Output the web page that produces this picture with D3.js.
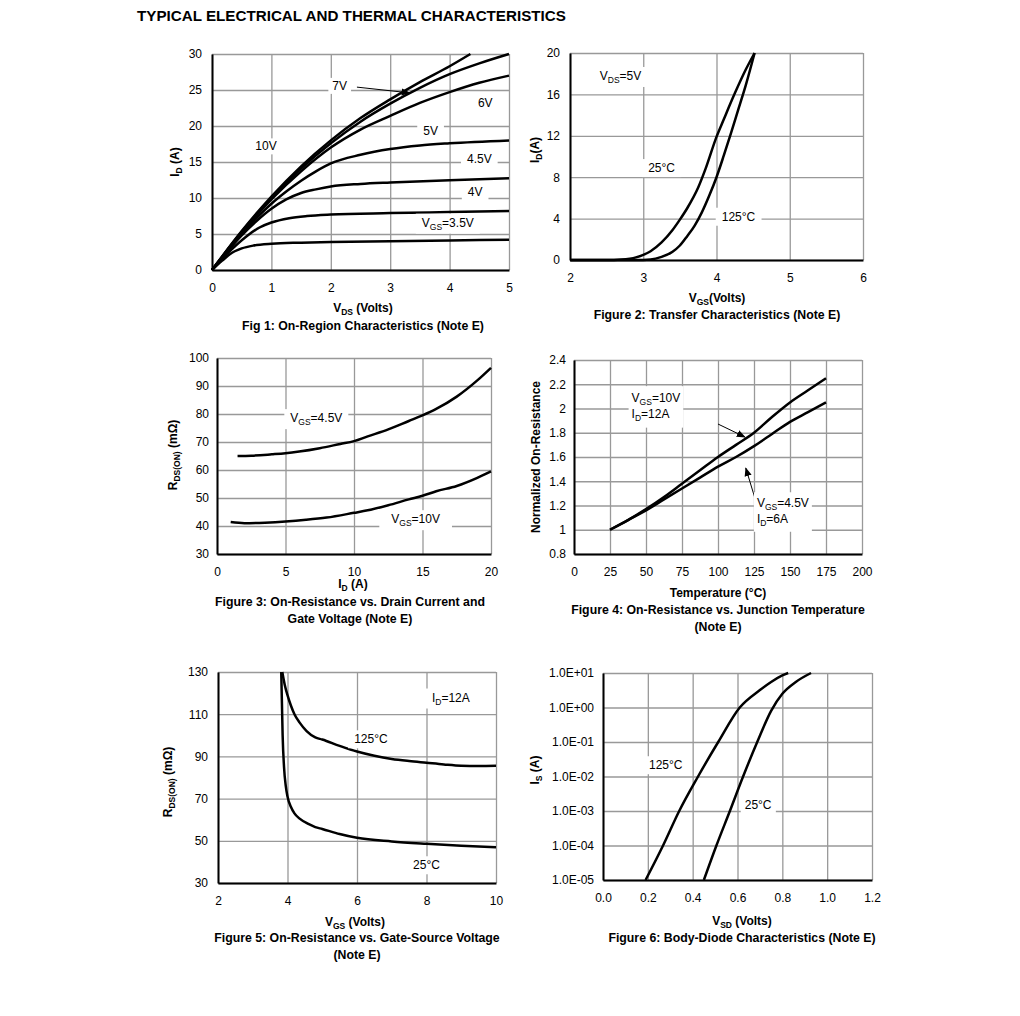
<!DOCTYPE html>
<html>
<head>
<meta charset="utf-8">
<script src="https://cdn.jsdelivr.net/npm/d3@7"></script>
<style>
body { margin: 0; background: #fff; }
text { font-family: "Liberation Sans", Arial, sans-serif; fill: #000; }
</style>
</head>
<body>
<div id="chart"></div>
<script>
// ---- data ----

// Fig 1: ID vs VDS for each VGS
const fig1Vgs10 = [[0,0],[0.5,5.4],[1,10.2],[1.5,14.4],[2,18.0],[2.5,21.1],[3,23.7],[3.5,26.1],[4,28.3],[4.35,30]];
const fig1Vgs7 = [[0,0],[0.5,5.3],[1,10],[1.5,14.1],[2,17.6],[2.5,20.6],[3,23.1],[3.5,25.3],[4,27.2],[4.5,28.7],[5,30]];
const fig1Vgs6 = [[0,0],[0.5,5.2],[1,9.8],[1.5,13.7],[2,17.0],[2.5,19.5],[3,21.4],[3.5,23.2],[4,24.7],[4.5,26.0],[5,27.0]];
const fig1Vgs5 = [[0,0],[0.25,2.5],[0.5,5.0],[0.75,7.2],[1,9.2],[1.25,10.9],[1.5,12.4],[1.75,13.7],[2,14.8],[2.5,16.0],[3,16.8],[3.5,17.3],[4,17.6],[5,18.0]];
const fig1Vgs45 = [[0,0],[0.25,2.5],[0.5,4.8],[0.75,6.8],[1,8.5],[1.25,9.8],[1.5,10.7],[1.75,11.2],[2,11.6],[2.5,11.95],[3,12.15],[4,12.45],[5,12.75]];
const fig1Vgs4 = [[0,0],[0.2,1.8],[0.4,3.4],[0.6,4.8],[0.8,5.9],[1,6.6],[1.3,7.2],[1.6,7.5],[2,7.7],[3,7.9],[4,8.05],[5,8.2]];
const fig1Vgs35 = [[0,0],[0.1,0.8],[0.2,1.5],[0.3,2.2],[0.5,3.0],[0.7,3.4],[1,3.65],[1.5,3.8],[2,3.9],[3,4.0],[4,4.1],[5,4.2]];

// Fig 2: ID vs VGS
const fig2T25 = [[2,0],[2.5,0],[2.7,0.05],[2.9,0.25],[3.0,0.5],[3.1,0.85],[3.25,1.7],[3.4,2.9],[3.5,3.9],[3.6,5.0],[3.75,7.0],[3.85,8.8],[4.0,11.9],[4.1,13.6],[4.25,16.1],[4.4,18.4],[4.52,20]];
const fig2T125 = [[2,0],[2.9,0],[3.1,0.05],[3.25,0.3],[3.4,0.8],[3.5,1.4],[3.6,2.3],[3.7,3.3],[3.8,4.6],[3.9,6.2],[4.0,8.0],[4.1,10.1],[4.2,12.3],[4.3,14.6],[4.4,16.9],[4.52,20]];

// Fig 3: RDS(ON) vs ID
const fig3Vgs45 = [[1.5,65],[2.5,65.1],[4,65.6],[5,66],[6,66.6],[7.5,67.8],[9,69.3],[10,70.3],[11,72],[12.5,74.5],[14,77.5],[15,79.5],[16,81.8],[17.5,86.2],[19,92],[20,96.5]];
const fig3Vgs10 = [[1,41.4],[2,41],[3.5,41.2],[5,41.6],[6.5,42.2],[8,43],[10,44.7],[11,45.6],[12.5,47.4],[14,49.5],[15,50.8],[16,52.4],[17.5,54.3],[19,57.2],[20,59.5]];

// Fig 4: normalized RDS(ON) vs temperature
const fig4Vgs10 = [[25,1],[37.5,1.08],[50,1.17],[62.5,1.27],[75,1.38],[87.5,1.49],[100,1.6],[112.5,1.7],[125,1.8],[137.5,1.93],[150,2.05],[162.5,2.15],[175,2.25]];
const fig4Vgs45 = [[25,1],[37.5,1.08],[50,1.16],[62.5,1.25],[75,1.34],[87.5,1.43],[100,1.52],[112.5,1.6],[125,1.69],[137.5,1.79],[150,1.89],[162.5,1.97],[175,2.05]];

// Fig 5: RDS(ON) vs VGS
const fig5T125 = [[3.85,130],[3.92,124],[4.0,119],[4.1,114],[4.2,110],[4.35,106],[4.55,102],[4.8,99],[5,98],[5.5,95],[6,92.3],[6.5,90.3],[7,88.8],[7.5,87.8],[8,87],[8.5,86.2],[9,85.6],[9.5,85.5],[10,85.6]];
const fig5T25 = [[3.82,130],[3.84,115],[3.86,100],[3.9,85],[3.95,76],[4.0,71],[4.1,66],[4.2,63],[4.35,60.5],[4.6,58],[4.8,56.5],[5,55.6],[5.5,53.2],[6,51.4],[7,49.7],[8,48.6],[9,47.7],[10,46.9]];

// Fig 6: IS vs VSD (log)
const fig6T125 = [[0.19,1e-5],[0.268,1e-4],[0.34,1e-3],[0.424,1e-2],[0.514,1e-1],[0.61,1],[0.7,3.2],[0.75,5.5],[0.8,8.5],[0.826,10]];
const fig6T25 = [[0.45,1e-5],[0.506,1e-4],[0.566,1e-3],[0.625,1e-2],[0.688,1e-1],[0.75,0.8],[0.8,2.5],[0.86,5.5],[0.928,10]];

// tick values
const fig1XTicks = [0,1,2,3,4,5], fig1YTicks = [0,5,10,15,20,25,30];
const fig2XTicks = [2,3,4,5,6], fig2YTicks = [0,4,8,12,16,20];
const fig3XTicks = [0,5,10,15,20], fig3YTicks = [30,40,50,60,70,80,90,100];
const fig4XTicks = [0,25,50,75,100,125,150,175,200], fig4YTicks = [0.8,1,1.2,1.4,1.6,1.8,2,2.2,2.4];
const fig5XTicks = [2,4,6,8,10], fig5YTicks = [30,50,70,90,110,130];
const fig6XTicks = [0,0.2,0.4,0.6,0.8,1.0,1.2], fig6YTicks = [1e-5,1e-4,1e-3,1e-2,1e-1,1,10];

const gridColor = '#999';
const fontSize = 12, subSize = 8.5, capSize = 12.3;

const svg = d3.select('#chart').append('svg')
	.attr('width', 1020)
	.attr('height', 1016);

svg.append('rect').attr('width', 1020).attr('height', 1016).attr('fill', '#fff');

// Write "V_{GS}=4.5V" style strings with subscripts as tspans
const rich = (textSel, str) => {
	let shifted = false;
	str.split(/(_\{[^}]*\})/).forEach(p => {
		if (!p) return;
		if (p.startsWith('_{')) {
			textSel.append('tspan')
				.attr('font-size', subSize)
				.attr('dy', shifted ? 0 : 3)
				.text(p.slice(2, -1));
			shifted = true;
		} else {
			const t = textSel.append('tspan').text(p);
			if (shifted) t.attr('dy', -3);
			shifted = false;
		}
	});
	return textSel;
};

const addTitle = (x, y, str, rotate) => {
	const t = svg.append('text')
		.attr('font-size', fontSize)
		.attr('font-weight', 'bold')
		.attr('text-anchor', 'middle')
		.attr('dy', '0.35em');
	if (rotate) t.attr('transform', `translate(${x},${y}) rotate(-90)`);
	else t.attr('x', x).attr('y', y);
	rich(t, str);
};

const drawPanel = (cfg) => {
	const x = d3.scaleLinear().domain(cfg.xDomain).range(cfg.xRange);
	const y = (cfg.yLog ? d3.scaleLog() : d3.scaleLinear()).domain(cfg.yDomain).range(cfg.yRange);
	const g = svg.append('g');
	const bottom = cfg.yRange[0], top = cfg.yRange[1];
	const left = cfg.xRange[0], right = cfg.xRange[1];

	// grid
	g.append('g')
		.attr('transform', `translate(0,${bottom})`)
		.call(d3.axisBottom(x).tickValues(cfg.xTicks).tickSize(-(bottom - top)).tickFormat(''))
		.call(a => a.select('.domain').remove())
		.call(a => a.selectAll('line').attr('stroke', gridColor).attr('stroke-width', 1.3));
	g.append('g')
		.attr('transform', `translate(${left},0)`)
		.call(d3.axisLeft(y).tickValues(cfg.yTicks).tickSize(-(right - left)).tickFormat(''))
		.call(a => a.select('.domain').remove())
		.call(a => a.selectAll('line').attr('stroke', gridColor).attr('stroke-width', 1.3));

	// curves
	const line = d3.line()
		.x(d => x(d[0]))
		.y(d => y(d[1]))
		.curve(d3.curveMonotoneX);
	g.selectAll('path.curve')
		.data(cfg.series)
		.enter()
		.append('path')
		.attr('class', 'curve')
		.attr('d', line)
		.attr('fill', 'none')
		.attr('stroke', '#000')
		.attr('stroke-width', 2.5)
		.attr('stroke-linejoin', 'round');

	// arrows
	(cfg.arrows || []).forEach(a => {
		g.append('line')
			.attr('x1', x(a[0][0])).attr('y1', y(a[0][1]))
			.attr('x2', x(a[1][0])).attr('y2', y(a[1][1]))
			.attr('stroke', '#000')
			.attr('stroke-width', 1)
			.attr('marker-end', 'url(#arrowHead)');
	});

	// in-plot labels with white background
	(cfg.labels || []).forEach(l => {
		const lg = g.append('g');
		const lines = Array.isArray(l.text) ? l.text : [l.text];
		lines.forEach((s, i) => {
			const t = lg.append('text')
				.attr('x', x(l.x))
				.attr('y', y(l.y) + i * 15.5)
				.attr('dy', '0.35em')
				.attr('font-size', fontSize)
				.attr('text-anchor', l.anchor || 'middle');
			rich(t, s);
		});
		const bb = lg.node().getBBox();
		const pad = l.pad || [6, 2];
		lg.insert('rect', 'text')
			.attr('x', bb.x - pad[0])
			.attr('y', bb.y - pad[1])
			.attr('width', bb.width + pad[0] * 2)
			.attr('height', bb.height + pad[1] * 2)
			.attr('fill', '#fff');
	});

	// tick labels + black axis lines
	g.append('g')
		.attr('transform', `translate(0,${bottom})`)
		.call(d3.axisBottom(x).tickValues(cfg.xTicks).tickSize(0).tickSizeOuter(0).tickPadding(13).tickFormat(cfg.xFmt || (d => d)))
		.call(a => a.select('.domain').attr('stroke', '#000').attr('stroke-width', 2))
		.call(a => a.selectAll('text').attr('font-size', fontSize).attr('font-family', '"Liberation Sans", Arial, sans-serif').attr('fill', '#111'));
	g.append('g')
		.attr('transform', `translate(${left},0)`)
		.call(d3.axisLeft(y).tickValues(cfg.yTicks).tickSize(0).tickSizeOuter(0).tickPadding(cfg.yPad || 9).tickFormat(cfg.yFmt || (d => d)))
		.call(a => a.select('.domain').attr('stroke', '#000').attr('stroke-width', 2))
		.call(a => a.selectAll('text').attr('font-size', fontSize).attr('font-family', '"Liberation Sans", Arial, sans-serif').attr('fill', '#111'));

	addTitle(cfg.xTitle[0], cfg.xTitle[1], cfg.xTitle[2], false);
	addTitle(cfg.yTitle[0], cfg.yTitle[1], cfg.yTitle[2], true);
	cfg.caption.lines.forEach((s, i) => {
		svg.append('text')
			.attr('x', cfg.caption.x)
			.attr('y', cfg.caption.y + i * 16.5)
			.attr('dy', '0.35em')
			.attr('font-size', capSize)
			.attr('font-weight', 'bold')
			.attr('text-anchor', 'middle')
			.text(s);
	});
};

// arrowhead marker
svg.append('defs').append('marker')
	.attr('id', 'arrowHead')
	.attr('viewBox', '0 0 10 10')
	.attr('refX', 9).attr('refY', 5)
	.attr('markerWidth', 9).attr('markerHeight', 9)
	.attr('markerUnits', 'userSpaceOnUse')
	.attr('orient', 'auto')
	.append('path')
	.attr('d', 'M0,1 L10,5 L0,9 Z')
	.attr('fill', '#000');

// page title
svg.append('text')
	.attr('x', 137).attr('y', 21)
	.attr('font-size', 15.2)
	.attr('font-weight', 'bold')
	.text('TYPICAL ELECTRICAL AND THERMAL CHARACTERISTICS');

const oneDec = d3.format('.1f');

drawPanel({
	xDomain: [0, 5], xRange: [212, 509], yDomain: [0, 30], yRange: [270, 54],
	xTicks: fig1XTicks, yTicks: fig1YTicks, yPad: 10,
	series: [fig1Vgs10, fig1Vgs7, fig1Vgs6, fig1Vgs5, fig1Vgs45, fig1Vgs4, fig1Vgs35],
	labels: [
		{x: 0.91, y: 17.2, text: '10V', pad: [4, 1]},
		{x: 2.15, y: 25.6, text: '7V', pad: [4, 1]},
		{x: 4.6, y: 23.2, text: '6V'},
		{x: 3.68, y: 19.3, text: '5V'},
		{x: 4.5, y: 15.5, text: '4.5V'},
		{x: 4.43, y: 10.9, text: '4V'},
		{x: 3.97, y: 6.6, text: 'V_{GS}=3.5V'}
	],
	arrows: [[[2.44, 25.4], [3.33, 24.6]]],
	xTitle: [363, 308, 'V_{DS} (Volts)'],
	yTitle: [175, 162, 'I_{D} (A)'],
	caption: {x: 363, y: 326, lines: ['Fig 1: On-Region Characteristics (Note E)']}
});

drawPanel({
	xDomain: [2, 6], xRange: [570, 863], yDomain: [0, 20], yRange: [260, 53],
	xTicks: fig2XTicks, yTicks: fig2YTicks, yPad: 10,
	series: [fig2T25, fig2T125],
	labels: [
		{x: 2.69, y: 17.8, text: 'V_{DS}=5V'},
		{x: 3.25, y: 8.9, text: '25°C'},
		{x: 4.3, y: 4.2, text: '125°C'}
	],
	xTitle: [717, 298, 'V_{GS}(Volts)'],
	yTitle: [535, 150, 'I_{D}(A)'],
	caption: {x: 717, y: 315, lines: ['Figure 2: Transfer Characteristics (Note E)']}
});

drawPanel({
	xDomain: [0, 20], xRange: [217, 491], yDomain: [30, 100], yRange: [554, 358],
	xTicks: fig3XTicks, yTicks: fig3YTicks, yPad: 8,
	series: [fig3Vgs45, fig3Vgs10],
	labels: [
		{x: 7.25, y: 78.6, text: 'V_{GS}=4.5V'},
		{x: 14.5, y: 42.5, text: 'V_{GS}=10V', pad: [12, 2]}
	],
	xTitle: [353, 584, 'I_{D} (A)'],
	yTitle: [173, 455, 'R_{DS(ON)} (mΩ)'],
	caption: {x: 350, y: 602, lines: ['Figure 3: On-Resistance vs. Drain Current and', 'Gate Voltage (Note E)']}
});

drawPanel({
	xDomain: [0, 200], xRange: [574, 862], yDomain: [0.8, 2.4], yRange: [554, 360],
	xTicks: fig4XTicks, yTicks: fig4YTicks, yPad: 8,
	yFmt: d => oneDec(d).replace(/\.0$/, ''),
	series: [fig4Vgs10, fig4Vgs45],
	labels: [
		{x: 40, y: 2.087, text: ['V_{GS}=10V', 'I_{D}=12A'], anchor: 'start', pad: [3, 5]},
		{x: 127, y: 1.22, text: ['V_{GS}=4.5V', 'I_{D}=6A'], anchor: 'start', pad: [3, 4]}
	],
	arrows: [[[100, 1.872], [118.7, 1.765]], [[125.6, 1.262], [119.3, 1.509]]],
	xTitle: [718, 593, 'Temperature (°C)'],
	yTitle: [536, 457, 'Normalized On-Resistance'],
	caption: {x: 718, y: 610, lines: ['Figure 4: On-Resistance vs. Junction Temperature', '(Note E)']}
});

drawPanel({
	xDomain: [2, 10], xRange: [218, 496], yDomain: [30, 130], yRange: [883, 672],
	xTicks: fig5XTicks, yTicks: fig5YTicks, yPad: 10,
	series: [fig5T125, fig5T25],
	labels: [
		{x: 8.7, y: 118, text: 'I_{D}=12A'},
		{x: 6.4, y: 98.2, text: '125°C'},
		{x: 8.0, y: 38.5, text: '25°C'}
	],
	xTitle: [355, 922, 'V_{GS} (Volts)'],
	yTitle: [168, 782, 'R_{DS(ON)} (mΩ)'],
	caption: {x: 357, y: 938, lines: ['Figure 5: On-Resistance vs. Gate-Source Voltage', '(Note E)']}
});

drawPanel({
	xDomain: [0, 1.2], xRange: [603, 872], yDomain: [1e-5, 10], yRange: [880, 673], yLog: true,
	xTicks: fig6XTicks, yTicks: fig6YTicks, yPad: 9,
	xFmt: oneDec,
	yFmt: d => {
		const e = Math.round(Math.log10(d));
		return '1.0E' + (e >= 0 ? '+' : '-') + String(Math.abs(e)).padStart(2, '0');
	},
	series: [fig6T125, fig6T25],
	labels: [
		{x: 0.28, y: 0.0215, text: '125°C'},
		{x: 0.692, y: 0.0015, text: '25°C', pad: [4, 2]}
	],
	xTitle: [742, 921, 'V_{SD} (Volts)'],
	yTitle: [535, 770, 'I_{S} (A)'],
	caption: {x: 742, y: 938, lines: ['Figure 6: Body-Diode Characteristics (Note E)']}
});
</script>
</body>
</html>
